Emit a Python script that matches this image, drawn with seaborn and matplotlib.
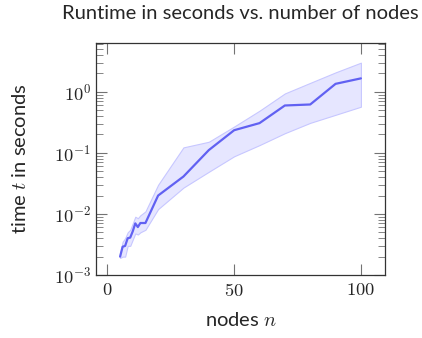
import numpy as np
import pandas as pd
import matplotlib
matplotlib.use("Agg")
import matplotlib.pyplot as plt
import matplotlib.ticker as mticker
import seaborn as sns

# runtime measurements (mean with min/max band)
nodes = [5, 6, 7, 8, 9, 10, 11, 12, 13, 15, 20, 30, 40, 50, 60, 70, 80, 90, 100]
t_mean = [0.0020, 0.0029, 0.0030, 0.0040, 0.0041, 0.0052, 0.0070, 0.0061, 0.0071, 0.0071,
          0.020, 0.041, 0.111, 0.235, 0.307, 0.597, 0.62, 1.35, 1.66]
t_upper = [0.0022, 0.0035, 0.0040, 0.0050, 0.0055, 0.0070, 0.0090, 0.0085, 0.0095, 0.0110,
           0.030, 0.123, 0.152, 0.27, 0.49, 0.94, 1.40, 2.08, 3.00]
t_lower = [0.0019, 0.0020, 0.0020, 0.0030, 0.0030, 0.0038, 0.0048, 0.0046, 0.0050, 0.0055,
           0.012, 0.027, 0.049, 0.088, 0.134, 0.21, 0.31, 0.42, 0.57]

xticks = [0, 50, 100]
xticklabels = ["$0$", "$50$", "$100$"]
yticks = [1e-3, 1e-2, 1e-1, 1e0]
yticklabels = ["$10^{-3}$", "$10^{-2}$", "$10^{-1}$", "$10^{0}$"]

df = pd.DataFrame({"n": nodes, "t": t_mean, "lo": t_lower, "hi": t_upper})

sns.set_style("ticks")
plt.rcParams["font.family"] = ["Lato", "DejaVu Sans"]
plt.rcParams["font.weight"] = "light"
plt.rcParams["mathtext.fontset"] = "cm"

fig = plt.figure(figsize=(4.22, 3.38), dpi=100)
ax = fig.add_axes([0.2275, 0.1864, 0.6848, 0.6864])

line_col = (0.38, 0.38, 0.95)
ax.fill_between(df["n"], df["lo"], df["hi"], facecolor=(0.9, 0.9, 1.0),
                edgecolor=(0.78, 0.78, 1.0), linewidth=0.8, zorder=1)
sns.lineplot(data=df, x="n", y="t", ax=ax, color=line_col, linewidth=1.6, zorder=2)

ax.set_yscale("log")
ax.set_xlim(-4.5, 109.5)
ax.set_ylim(1e-3, 6.3)

ax.xaxis.set_major_locator(mticker.FixedLocator(xticks))
ax.xaxis.set_major_formatter(mticker.FixedFormatter(xticklabels))
ax.yaxis.set_major_locator(mticker.FixedLocator(yticks))
ax.yaxis.set_major_formatter(mticker.FixedFormatter(yticklabels))
ax.yaxis.set_minor_locator(mticker.LogLocator(base=10, subs=np.arange(2, 10)))
ax.yaxis.set_minor_formatter(mticker.NullFormatter())

ax.tick_params(which="both", direction="in", top=True, right=True, color="0.45",
               labelsize=13.3)
ax.tick_params(which="major", length=8, width=0.8)
ax.tick_params(which="minor", length=5, width=0.6)
ax.tick_params(axis="x", pad=5)
for s in ax.spines.values():
    s.set_color("0.2")
    s.set_linewidth(0.9)

ax.set_xlabel("nodes $n$", fontsize=14.5, labelpad=9)
ax.set_ylabel("time $t$ in seconds", fontsize=14.5, labelpad=18)
ax.set_title("Runtime in seconds vs. number of nodes", fontsize=14.5, pad=17)

fig.savefig("out.png", dpi=100)
